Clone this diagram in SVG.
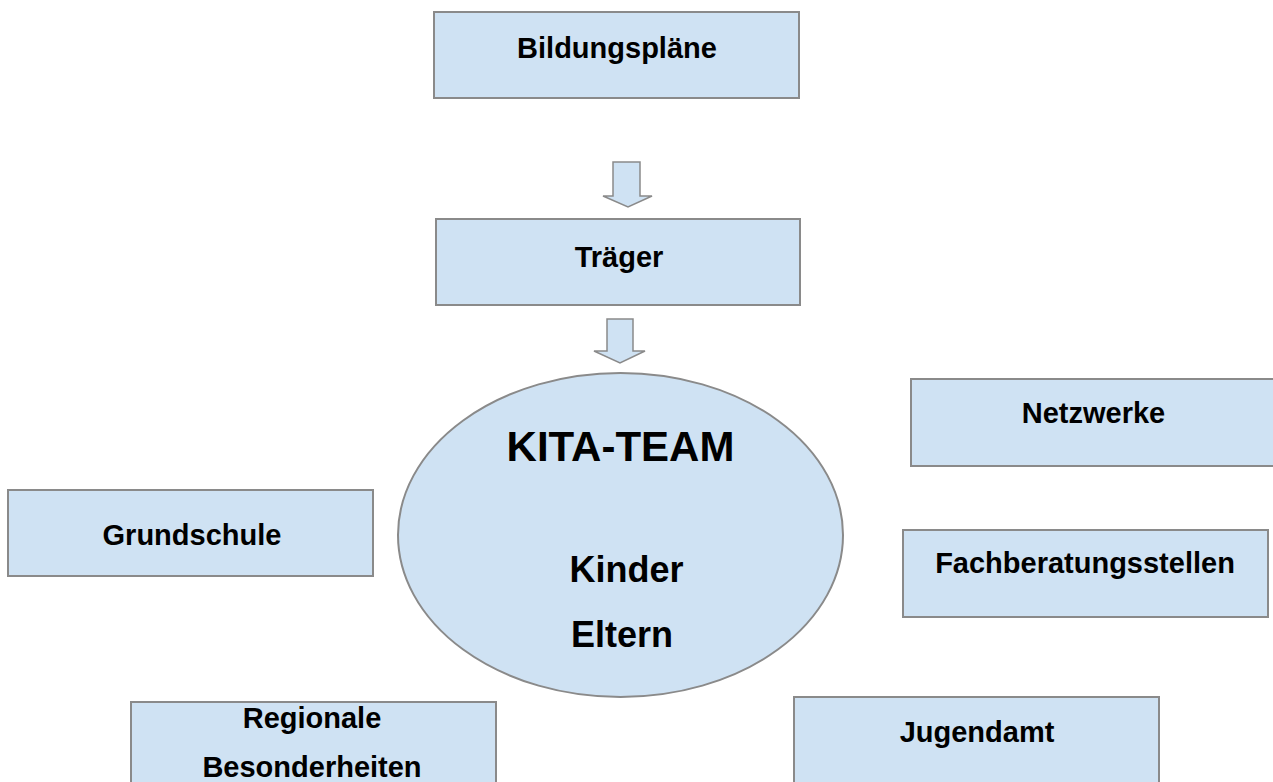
<svg xmlns="http://www.w3.org/2000/svg" width="1273" height="782" viewBox="0 0 1273 782">
<style>
.box{fill:#cfe2f3;stroke:#8a8a8a;stroke-width:2}
.arr{fill:#cfe2f3;stroke:#8a8a8a;stroke-width:1.5;stroke-linejoin:miter}
.t{font-family:"Liberation Sans",Arial,sans-serif;font-weight:bold;fill:#000;text-anchor:middle;font-size:29px}
.big{font-size:42px}
.mid{font-size:36px}
</style>
<rect width="1273" height="782" fill="#fff"/>
<g id="connectors">
<path class="arr" d="M613,162 H640 V196 H652 L628,207 L603,196 H613 Z"/>
<path class="arr" d="M607,319 H633 V351 H645 L620,363 L594,351 H607 Z"/>
</g>
<g id="bildungsplaene"><rect class="box" x="434" y="12" width="365" height="86"/><text class="t" x="617" y="58">Bildungspläne</text></g>
<g id="traeger"><rect class="box" x="436" y="219" width="364" height="86"/><text class="t" x="619" y="267">Träger</text></g>
<g id="kita"><ellipse class="box" cx="620.5" cy="535" rx="222.5" ry="162"/>
<text class="t big" x="620.5" y="461">KITA-TEAM</text>
<text class="t mid" x="626.5" y="582">Kinder</text>
<text class="t mid" x="622" y="647">Eltern</text></g>
<g id="netzwerke"><rect class="box" x="911" y="379" width="366" height="87"/><text class="t" x="1093.5" y="423">Netzwerke</text></g>
<g id="grundschule"><rect class="box" x="8" y="490" width="365" height="86"/><text class="t" x="192" y="545">Grundschule</text></g>
<g id="fachberatungsstellen"><rect class="box" x="903" y="530" width="365" height="87"/><text class="t" x="1085" y="573">Fachberatungsstellen</text></g>
<g id="regionale"><rect class="box" x="131" y="702" width="365" height="90"/><text class="t" x="312" y="728">Regionale</text><text class="t" x="312" y="777">Besonderheiten</text></g>
<g id="jugendamt"><rect class="box" x="794" y="697" width="365" height="95"/><text class="t" x="977" y="742">Jugendamt</text></g>
</svg>
